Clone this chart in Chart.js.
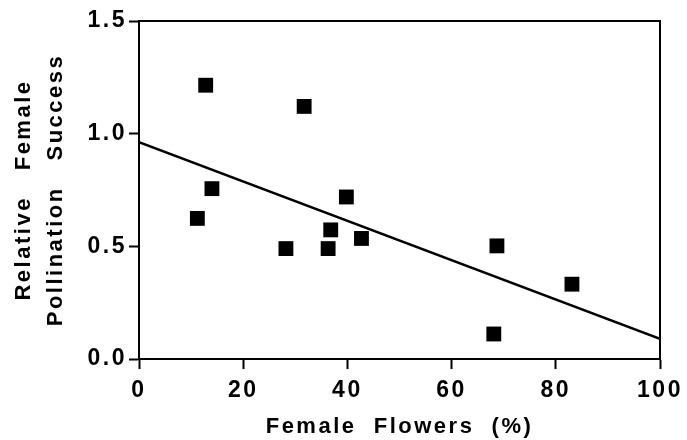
<!DOCTYPE html>
<html>
<head>
<meta charset="utf-8">
<script src="https://cdn.jsdelivr.net/npm/chart.js@4/dist/chart.umd.min.js"></script>
<style>
  html, body { margin: 0; padding: 0; background: #fff; }
  #wrap { width: 687px; height: 440px; }
</style>
</head>
<body>
<div id="wrap"><canvas id="chart"></canvas></div>
<script>
// values
const femaleFlowers = [11.2, 12.8, 14.0, 28.2, 31.7, 36.3, 36.8, 39.8, 42.7, 68.1, 68.7, 83.1];
const pollinationSuccess = [0.624, 1.215, 0.756, 0.490, 1.121, 0.490, 0.573, 0.719, 0.535, 0.111, 0.502, 0.332];
const fitX = [0, 100];
const fitY = [0.962, 0.089];
const xTicks = [0, 20, 40, 60, 80, 100];
const yTicks = [0, 0.5, 1.0, 1.5];

const font = 'Liberation Sans, Arial, Helvetica, sans-serif';

let spacing = {
    id: 'spacing',
    beforeUpdate: chart => { chart.ctx.letterSpacing = '2.5px'; },
    beforeDraw: chart => { chart.ctx.letterSpacing = '2.5px'; },
    afterDraw: chart => {
        let a = chart.chartArea, ctx = chart.ctx;
        ctx.save();
        ctx.strokeStyle = '#000';
        ctx.lineWidth = 2;
        ctx.strokeRect(a.left, a.top, a.right - a.left, a.bottom - a.top);
        ctx.restore();
    }
};

new Chart(document.getElementById('chart').getContext('2d'), {
    type: 'scatter',
    data: {
        datasets: [{
            label: 'Populations',
            data: femaleFlowers.map((x, i) => ({ x: x, y: pollinationSuccess[i] })),
            pointStyle: 'rect',
            pointRadius: 10.5,
            pointHoverRadius: 10.5,
            backgroundColor: '#000',
            borderWidth: 0
        }, {
            label: 'Fit',
            type: 'line',
            data: fitX.map((x, i) => ({ x: x, y: fitY[i] })),
            borderColor: '#000',
            borderWidth: 2.5,
            pointRadius: 0,
            fill: false
        }]
    },
    options: {
        responsive: true,
        maintainAspectRatio: false,
        animation: false,
        layout: { padding: { top: 21, right: 27, left: 0, bottom: 0 } },
        plugins: { legend: { display: false }, tooltip: { enabled: false } },
        scales: {
            x: {
                type: 'linear',
                min: 0, max: 100,
                afterBuildTicks: s => { s.ticks = xTicks.map(v => ({ value: v })); },
                afterFit: s => { s.height = 81; s.paddingLeft = 0; s.paddingRight = 0; },
                ticks: { color: '#000', font: { family: font, size: 23, weight: 'bold' }, padding: 8, maxRotation: 0 },
                grid: { drawOnChartArea: false, drawTicks: true, tickLength: 10, tickColor: '#000', tickWidth: 2 },
                border: { display: true, color: '#000', width: 2 },
                title: {
                    display: true, text: 'Female  Flowers  (%)', color: '#000',
                    font: { family: font, size: 22, weight: 'bold' }, padding: { top: 2, bottom: 0 }
                }
            },
            y: {
                type: 'linear',
                min: 0, max: 1.5,
                afterBuildTicks: s => { s.ticks = yTicks.map(v => ({ value: v })); },
                afterFit: s => { s.width = 139; s.paddingTop = 0; s.paddingBottom = 0; },
                ticks: { color: '#000', font: { family: font, size: 23, weight: 'bold' }, padding: 2, callback: v => v.toFixed(1) },
                grid: { drawOnChartArea: false, drawTicks: true, tickLength: 10, tickColor: '#000', tickWidth: 2 },
                border: { display: true, color: '#000', width: 2 },
                title: {
                    display: true, text: ['Relative   Female', 'Pollination   Success'], color: '#000',
                    font: { family: font, size: 22, weight: 'bold', lineHeight: 1.45 }, padding: { top: 8, bottom: 0 }
                }
            }
        }
    },
    plugins: [spacing]
});
</script>
</body>
</html>
